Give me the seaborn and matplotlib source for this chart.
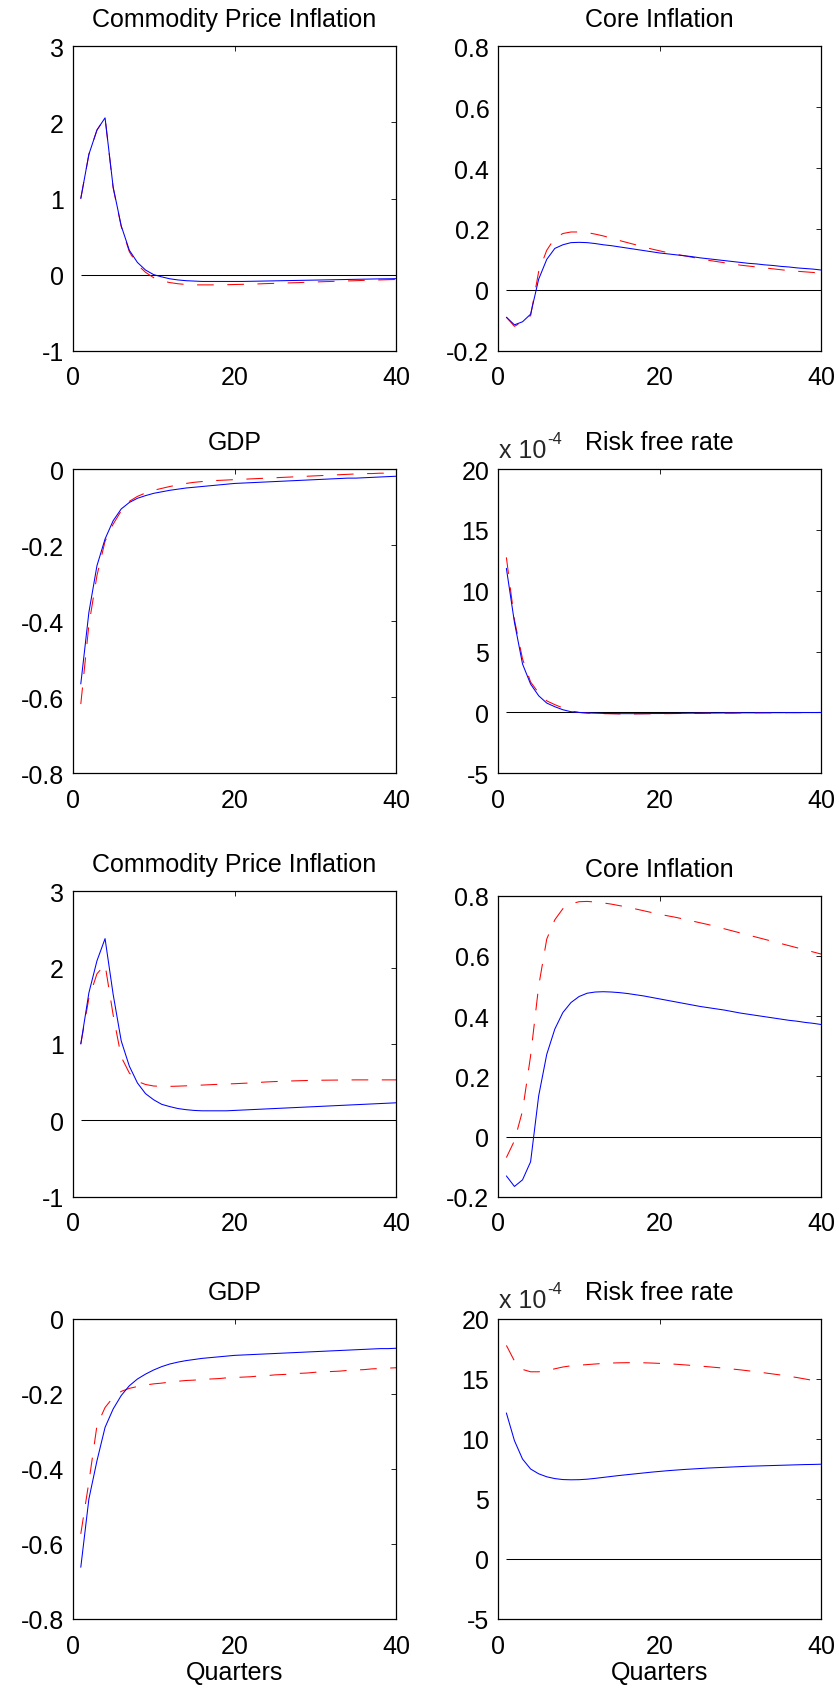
import numpy as np
import pandas as pd
import matplotlib
matplotlib.use("Agg")
import matplotlib.pyplot as plt
import seaborn as sns

# ---------------- data ----------------
quarters = list(range(1, 41))

# Panel 1: Commodity Price Inflation (scenario 1)
cpi1_blue = [1.00, 1.58, 1.90, 2.06, 1.15, 0.64, 0.32, 0.16, 0.06, 0.00,
             -0.03, -0.055, -0.07, -0.08, -0.085, -0.09, -0.09, -0.09, -0.09, -0.09,
             -0.09, -0.088, -0.086, -0.084, -0.082, -0.08, -0.078, -0.076, -0.074, -0.072,
             -0.07, -0.068, -0.066, -0.064, -0.062, -0.06, -0.058, -0.056, -0.055, -0.053]
cpi1_red = [1.00, 1.58, 1.90, 2.06, 1.14, 0.63, 0.30, 0.13, 0.03, -0.04,
            -0.08, -0.105, -0.12, -0.13, -0.135, -0.135, -0.135, -0.135, -0.133, -0.13,
            -0.128, -0.125, -0.122, -0.118, -0.115, -0.112, -0.108, -0.105, -0.10, -0.097,
            -0.093, -0.09, -0.086, -0.083, -0.08, -0.076, -0.073, -0.07, -0.067, -0.064]

# Panel 2: Core Inflation (scenario 1)
core1_blue = [-0.09, -0.115, -0.105, -0.08, 0.035, 0.10, 0.136, 0.148, 0.155, 0.156,
              0.155, 0.152, 0.148, 0.145, 0.141, 0.137, 0.133, 0.129, 0.125, 0.121,
              0.118, 0.115, 0.112, 0.109, 0.105, 0.102, 0.099, 0.096, 0.093, 0.09,
              0.087, 0.085, 0.082, 0.08, 0.077, 0.075, 0.072, 0.07, 0.068, 0.065]
core1_red = [-0.09, -0.12, -0.105, -0.085, 0.06, 0.13, 0.17, 0.185, 0.19, 0.19,
             0.188, 0.183, 0.177, 0.17, 0.162, 0.155, 0.148, 0.141, 0.134, 0.128,
             0.122, 0.117, 0.112, 0.107, 0.102, 0.097, 0.093, 0.089, 0.085, 0.081,
             0.078, 0.075, 0.072, 0.069, 0.066, 0.063, 0.061, 0.059, 0.057, 0.055]

# Panel 3: GDP (scenario 1)
gdp1_blue = [-0.565, -0.377, -0.254, -0.184, -0.136, -0.105, -0.088, -0.077, -0.07, -0.064,
             -0.06, -0.056, -0.053, -0.05, -0.048, -0.046, -0.044, -0.042, -0.04, -0.038,
             -0.037, -0.036, -0.035, -0.034, -0.033, -0.032, -0.031, -0.03, -0.029, -0.028,
             -0.027, -0.026, -0.025, -0.024, -0.024, -0.023, -0.022, -0.021, -0.02, -0.019]
gdp1_red = [-0.618, -0.41, -0.28, -0.19, -0.145, -0.11, -0.085, -0.072, -0.063, -0.056,
            -0.051, -0.046, -0.042, -0.038, -0.035, -0.033, -0.031, -0.03, -0.029, -0.028,
            -0.027, -0.026, -0.025, -0.024, -0.023, -0.022, -0.021, -0.02, -0.019, -0.018,
            -0.017, -0.016, -0.015, -0.014, -0.013, -0.012, -0.012, -0.011, -0.011, -0.01]

# Panel 4: Risk free rate (scenario 1), in units of 1e-4
rf1_blue = [11.84, 7.4, 3.98, 2.33, 1.37, 0.77, 0.47, 0.22, 0.06, 0.0,
            -0.04, -0.06, -0.08, -0.09, -0.1, -0.1, -0.1, -0.1, -0.09, -0.09,
            -0.08, -0.08, -0.07, -0.06, -0.06, -0.05, -0.05, -0.04, -0.04, -0.03,
            -0.03, -0.03, -0.02, -0.02, -0.02, -0.01, -0.01, -0.01, -0.01, 0.0]
rf1_red = [12.74, 7.6, 4.4, 2.5, 1.6, 0.95, 0.64, 0.37, 0.12, 0.0,
           -0.05, -0.08, -0.1, -0.11, -0.12, -0.12, -0.12, -0.11, -0.11, -0.1,
           -0.1, -0.09, -0.08, -0.08, -0.07, -0.06, -0.06, -0.05, -0.05, -0.04,
           -0.04, -0.03, -0.03, -0.03, -0.02, -0.02, -0.02, -0.01, -0.01, -0.01]

# Panel 5: Commodity Price Inflation (scenario 2)
cpi2_blue = [1.00, 1.67, 2.09, 2.38, 1.65, 1.04, 0.71, 0.49, 0.35, 0.27,
             0.21, 0.18, 0.155, 0.14, 0.13, 0.125, 0.125, 0.125, 0.125, 0.13,
             0.135, 0.14, 0.145, 0.15, 0.155, 0.16, 0.165, 0.17, 0.175, 0.18,
             0.185, 0.19, 0.195, 0.20, 0.205, 0.21, 0.215, 0.22, 0.225, 0.23]
cpi2_red = [1.00, 1.60, 1.92, 2.04, 1.38, 0.83, 0.62, 0.51, 0.47, 0.45,
            0.445, 0.445, 0.448, 0.452, 0.457, 0.462, 0.467, 0.472, 0.476, 0.48,
            0.485, 0.49, 0.497, 0.503, 0.508, 0.512, 0.516, 0.519, 0.522, 0.524,
            0.526, 0.527, 0.528, 0.529, 0.53, 0.53, 0.53, 0.53, 0.53, 0.53]

# Panel 6: Core Inflation (scenario 2)
core2_blue = [-0.131, -0.166, -0.144, -0.084, 0.135, 0.273, 0.357, 0.412, 0.445, 0.465,
              0.476, 0.48, 0.481, 0.48, 0.478, 0.475, 0.471, 0.467, 0.462, 0.457,
              0.452, 0.447, 0.442, 0.437, 0.432, 0.428, 0.424, 0.42, 0.415, 0.41,
              0.406, 0.402, 0.398, 0.394, 0.39, 0.386, 0.383, 0.379, 0.376, 0.372]
core2_red = [-0.07, -0.014, 0.085, 0.268, 0.50, 0.656, 0.72, 0.757, 0.773, 0.78,
             0.781, 0.779, 0.776, 0.772, 0.767, 0.762, 0.756, 0.75, 0.744, 0.738,
             0.733, 0.728, 0.722, 0.716, 0.71, 0.704, 0.697, 0.69, 0.683, 0.676,
             0.669, 0.662, 0.655, 0.648, 0.641, 0.634, 0.627, 0.62, 0.613, 0.606]

# Panel 7: GDP (scenario 2)
gdp2_blue = [-0.662, -0.48, -0.378, -0.289, -0.24, -0.204, -0.178, -0.16, -0.147, -0.136,
             -0.127, -0.12, -0.115, -0.111, -0.108, -0.105, -0.103, -0.101, -0.099, -0.097,
             -0.096, -0.095, -0.094, -0.093, -0.092, -0.091, -0.09, -0.089, -0.088, -0.087,
             -0.086, -0.085, -0.084, -0.083, -0.082, -0.081, -0.08, -0.079, -0.079, -0.078]
gdp2_red = [-0.573, -0.435, -0.284, -0.236, -0.209, -0.193, -0.185, -0.18, -0.176, -0.173,
            -0.171, -0.168, -0.166, -0.164, -0.163, -0.161, -0.16, -0.159, -0.157, -0.156,
            -0.155, -0.154, -0.152, -0.151, -0.149, -0.148, -0.147, -0.145, -0.144, -0.142,
            -0.141, -0.14, -0.139, -0.137, -0.136, -0.135, -0.133, -0.132, -0.131, -0.13]

# Panel 8: Risk free rate (scenario 2), in units of 1e-4
rf2_blue = [12.17, 9.86, 8.33, 7.5, 7.1, 6.85, 6.7, 6.62, 6.6, 6.61,
            6.65, 6.72, 6.8, 6.88, 6.96, 7.03, 7.1, 7.17, 7.24, 7.3,
            7.36, 7.41, 7.46, 7.5, 7.54, 7.58, 7.61, 7.64, 7.67, 7.7,
            7.73, 7.75, 7.77, 7.79, 7.81, 7.83, 7.85, 7.87, 7.88, 7.9]
rf2_red = [17.8, 16.5, 15.8, 15.6, 15.6, 15.7, 15.85, 16.0, 16.1, 16.15,
           16.2, 16.25, 16.3, 16.33, 16.35, 16.36, 16.36, 16.35, 16.33, 16.3,
           16.27, 16.23, 16.18, 16.13, 16.08, 16.02, 15.96, 15.9, 15.83, 15.76,
           15.68, 15.6, 15.51, 15.42, 15.33, 15.23, 15.12, 15.0, 14.88, 14.75]

titles = ["Commodity Price Inflation", "Core Inflation", "GDP", "Risk free rate",
          "Commodity Price Inflation", "Core Inflation", "GDP", "Risk free rate"]
blue_series = [cpi1_blue, core1_blue, gdp1_blue, rf1_blue, cpi2_blue, core2_blue, gdp2_blue, rf2_blue]
red_series = [cpi1_red, core1_red, gdp1_red, rf1_red, cpi2_red, core2_red, gdp2_red, rf2_red]
y_ticks = [[-1, 0, 1, 2, 3], [-0.2, 0, 0.2, 0.4, 0.6, 0.8], [-0.8, -0.6, -0.4, -0.2, 0], [-5, 0, 5, 10, 15, 20],
           [-1, 0, 1, 2, 3], [-0.2, 0, 0.2, 0.4, 0.6, 0.8], [-0.8, -0.6, -0.4, -0.2, 0], [-5, 0, 5, 10, 15, 20]]
x_ticks = [0, 20, 40]
x_label = "Quarters"

# ---------------- style ----------------
sns.set_style("white")
plt.rcParams["font.family"] = ["Liberation Sans", "DejaVu Sans"]
plt.rcParams["axes.unicode_minus"] = False

W, H = 839, 1690
fig = plt.figure(figsize=(W / 100, H / 100), dpi=100)
fig.patch.set_facecolor("white")

# axes boxes in pixels: (left, top, right, bottom)
boxes = [
    (72.7, 47.3, 396.3, 351.7), (498.3, 47.3, 821.3, 351.7),
    (72.7, 470.0, 396.3, 774.3), (498.3, 470.0, 821.3, 774.3),
    (72.7, 892.3, 396.3, 1197.7), (498.3, 896.7, 821.3, 1197.7),
    (72.7, 1320.0, 396.3, 1620.0), (498.3, 1320.0, 821.3, 1620.0),
]

FS = 18
for i, (l, t, r, b) in enumerate(boxes):
    ax = fig.add_axes([l / W, 1 - b / H, (r - l) / W, (b - t) / H])
    ax.set_facecolor("white")
    yt = y_ticks[i]
    ax.hlines(0, quarters[0], quarters[-1], color="black", lw=0.75, zorder=1)
    sns.lineplot(x=quarters, y=red_series[i], ax=ax, color="#ff0000", lw=0.75,
                 linestyle=(0, (16, 13)), errorbar=None, zorder=2)
    sns.lineplot(x=quarters, y=blue_series[i], ax=ax, color="#0000ff", lw=0.75,
                 errorbar=None, zorder=3)
    ax.set_xlim(0, 40)
    ax.set_ylim(yt[0], yt[-1])
    ax.set_xticks(x_ticks)
    ax.set_yticks(yt)
    ax.set_xticklabels([f"{v:g}" for v in x_ticks])
    ax.set_yticklabels([f"{v:g}" for v in yt])
    ax.tick_params(direction="in", top=True, right=True, length=3.5, width=0.6,
                   labelsize=FS, colors="black")
    ax.tick_params(axis="x", pad=10.5)
    ax.tick_params(axis="y", pad=6.5)
    for s in ax.spines.values():
        s.set_color("black")
        s.set_linewidth(0.9)
        s.set_visible(True)
    ax.set_xlabel("")
    ax.set_ylabel("")
    ax.set_title(titles[i], fontsize=FS, pad=14.5, color="black")
    if i >= 6:
        ax.set_xlabel(x_label, fontsize=FS, labelpad=2, color="black")
    if i in (3, 7):
        base = t - 12.3
        fig.text(499 / W, 1 - base / H, "x 10", fontsize=FS, ha="left", va="baseline")
        fig.text(547.5 / W, 1 - (base - 14) / H, "-4", fontsize=12, ha="left", va="baseline")

fig.savefig("out.png", dpi=100, facecolor="white")
